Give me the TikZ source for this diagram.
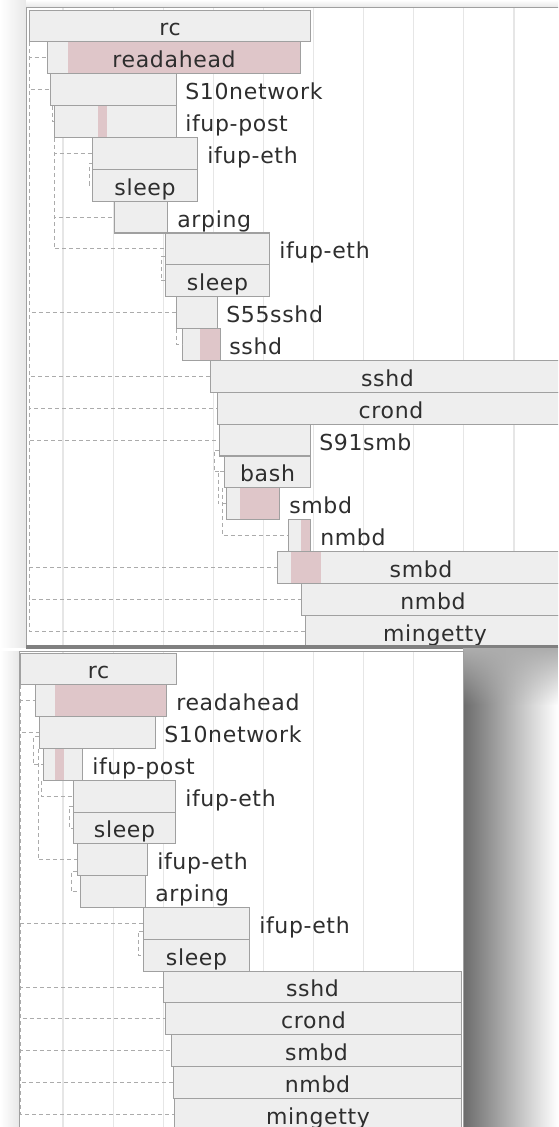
\documentclass[tikz,border=0pt]{standalone}
\usepackage{fontspec}
\setmainfont[LetterSpace=3]{DejaVu Sans}
\usetikzlibrary{positioning,fadings}
\definecolor{barfill}{HTML}{EEEEEE}
\definecolor{barline}{HTML}{A0A0A0}
\definecolor{hilite}{HTML}{DFC6C9}
\definecolor{gridc}{HTML}{E6E6E6}
\definecolor{linkc}{HTML}{ABABAB}
\definecolor{txt}{HTML}{2E2E2E}
\definecolor{framec}{HTML}{A0A0A0}
\tikzfading[name=fadedown, top color=transparent!0, bottom color=transparent!100]

\begin{document}
\begin{tikzpicture}[x=1pt,y=-1pt,
    every node/.style={font=\fontsize{22}{22}\selectfont},
    bar/.style={draw=barline, fill=barfill, line width=1.1pt, inner sep=0pt, anchor=north west,
        minimum height=31.85pt, text height=20pt, text depth=0pt, text=txt},
    lbl/.style={inner sep=0pt, text height=20pt, text depth=0pt, text=txt},
    hl/.style 2 args={path picture={\fill[hilite] ([xshift=#1]path picture bounding box.north west)
        rectangle ([xshift=#2]path picture bounding box.south west);}},
    link/.style={draw=linkc, line width=0.9pt, dash pattern=on 4pt off 3pt},
    gridline/.style={draw=gridc, line width=1.2pt}]
            \useasboundingbox (0,0) rectangle (558,1127);
            \clip (0,0) rectangle (558,1127);
            \fill[white] (0,0) rectangle (558,1127);
            \shade[left color=white, right color=black!9] (0,0) rectangle (26,647);
            \shade[top color=white, bottom color=black!9] (26,0) rectangle (558,7);
            \fill[white] (26,7) rectangle (570,647);
            \draw[framec, line width=1pt] (26,647) -- (26,7) -- (570,7);
            \foreach \k in {0,...,9} \draw[gridline] (63+50.1*\k,8) -- (63+50.1*\k,645);

            \node[bar, minimum width=281pt] (trc) at (29,9.5) {rc};
            \node[bar, minimum width=253pt, hl={20pt}{253pt}] (tread) at (47,41.35) {readahead};
            \node[bar, minimum width=126pt] (tnet) at (50,73.2) {};
            \node[bar, minimum width=122pt, hl={43pt}{52pt}] (tpost) at (54,105.05) {};
            \node[bar, minimum width=105pt] (teth) at (92,136.9) {};
            \node[bar, minimum width=105pt] (tsleep) at (92,168.75) {sleep};
            \node[bar, minimum width=53pt] (tarp) at (114,200.6) {};
            \node[bar, minimum width=104pt] (teth2) at (165,232.45) {};
            \node[bar, minimum width=104pt] (tsleep2) at (165,264.3) {sleep};
            \node[bar, minimum width=41pt] (ts55) at (176,296.15) {};
            \node[bar, minimum width=38pt, hl={17pt}{38pt}] (tsshd) at (182,328.0) {};
            \node[bar, minimum width=354pt] (tsshd2) at (210,359.85) {sshd};
            \node[bar, minimum width=347pt] (tcrond) at (217,391.7) {crond};
            \node[bar, minimum width=91pt] (ts91) at (219,423.55) {};
            \node[bar, minimum width=86pt] (tbash) at (224,455.4) {bash};
            \node[bar, minimum width=53pt, hl={13pt}{53pt}] (tsmbd) at (226,487.25) {};
            \node[bar, minimum width=22pt, hl={12pt}{22pt}] (tnmbd) at (288,519.1) {};
            \node[bar, minimum width=287pt, hl={13pt}{43pt}] (tsmbd2) at (277,550.95) {smbd};
            \node[bar, minimum width=263pt] (tnmbd2) at (301,582.8) {nmbd};
            \node[bar, minimum width=259pt] (tmget) at (305,614.65) {mingetty};

            \node[lbl, right=8pt of tnet] (ltnet) {S10network};
            \node[lbl, right=8pt of tpost] (ltpost) {ifup-post};
            \node[lbl, right=9pt of teth] (lteth) {ifup-eth};
            \node[lbl, right=9pt of tarp] (ltarp) {arping};
            \node[lbl, right=9pt of teth2] (lteth2) {ifup-eth};
            \node[lbl, right=8pt of ts55] (lts55) {S55sshd};
            \node[lbl, right=8pt of tsshd] (ltsshd) {sshd};
            \node[lbl, right=8pt of ts91] (lts91) {S91smb};
            \node[lbl, right=9pt of tsmbd] (ltsmbd) {smbd};
            \node[lbl, right=9pt of tnmbd] (ltnmbd) {nmbd};

            \foreach \c in {tread,tnet,ts55,tsshd2,tcrond,ts91,tsmbd2,tnmbd2,tmget}
                \draw[link] (trc.south west) |- (\c.west);
            \draw[link] ([xshift=2pt]tnet.south west) |- (tpost.west);
            \foreach \c in {teth,tarp,teth2}
                \draw[link] (tpost.south west) |- (\c.west);
            \draw[link] ([yshift=-10pt]teth.west) -- ++(-3pt,0) |- (tsleep.west);
            \draw[link] ([yshift=-8pt]teth2.west) -- ++(-4pt,0) |- (tsleep2.west);
            \draw[link] (ts55.south west) |- (tsshd.west);
            \draw[link] ([yshift=-10pt]ts91.west) -- ++(-5pt,0) |- (tbash.west);
            \draw[link] (tbash.west) -- ++(-6pt,0) |- (tsmbd.west);
            \draw[link] ([xshift=-2pt]tbash.south west) |- (tnmbd.west);

            \fill[black!50] (26,645) rectangle (558,648.5);
            \fill[white] (0,648.5) rectangle (558,1127);
            \shade[left color=white, right color=black!9] (0,651) rectangle (19,1127);
            \shade[left color=black!58, middle color=black!12, right color=white] (463,648.5) rectangle (558,1127);
            \fill[black!32, path fading=fadedown] (463,648.5) rectangle (558,705);
            \draw[framec, line width=1pt] (19,1130) -- (19,651) -- (463,651) -- (463,1130);
            \foreach \k in {0,...,7} \draw[gridline] (63+50.1*\k,652) -- (63+50.1*\k,1127);

            \node[bar, minimum width=156pt] (brc) at (20,652.5) {rc};
            \node[bar, minimum width=131pt, hl={19pt}{131pt}] (bread) at (35,684.3) {};
            \node[bar, minimum width=116pt] (bnet) at (39,716.1) {};
            \node[bar, minimum width=39pt, hl={11pt}{20pt}] (bpost) at (43,747.9) {};
            \node[bar, minimum width=102pt] (beth) at (73,779.7) {};
            \node[bar, minimum width=102pt] (bsleep) at (73,811.5) {sleep};
            \node[bar, minimum width=70pt] (beth2) at (77,843.3) {};
            \node[bar, minimum width=65pt] (barp) at (80,875.1) {};
            \node[bar, minimum width=106pt] (beth3) at (143,906.9) {};
            \node[bar, minimum width=106pt] (bsleep2) at (143,938.7) {sleep};
            \node[bar, minimum width=298pt] (bsshd) at (163,970.5) {sshd};
            \node[bar, minimum width=296pt] (bcrond) at (165,1002.3) {crond};
            \node[bar, minimum width=290pt] (bsmbd) at (171,1034.1) {smbd};
            \node[bar, minimum width=288pt] (bnmbd) at (173,1065.9) {nmbd};
            \node[bar, minimum width=287pt] (bmget) at (174,1097.7) {mingetty};

            \node[lbl, right=9pt of bread] (lbread) {readahead};
            \node[lbl, right=8pt of bnet] (lbnet) {S10network};
            \node[lbl, right=9pt of bpost] (lbpost) {ifup-post};
            \node[lbl, right=9pt of beth] (lbeth) {ifup-eth};
            \node[lbl, right=9pt of beth2] (lbeth2) {ifup-eth};
            \node[lbl, right=9pt of barp] (lbarp) {arping};
            \node[lbl, right=9pt of beth3] (lbeth3) {ifup-eth};

            \foreach \c in {bread,bnet,beth3,bsshd,bcrond,bsmbd,bnmbd,bmget}
                \draw[link] (brc.south west) |- (\c.west);
            \draw[link] ([yshift=-4pt]bnet.west) -- ++(-6pt,0) |- (bpost.west);
            \draw[link] ([xshift=-1pt]bnet.south west) |- (beth2.west);
            \draw[link] ([xshift=-2pt]bpost.south west) |- (beth.west);
            \draw[link] ([yshift=-10pt]beth.west) -- ++(-4pt,0) |- (bsleep.west);
            \draw[link] ([yshift=-12pt]beth2.west) -- ++(-6pt,0) |- (barp.west);
            \draw[link] ([yshift=-8pt]beth3.west) -- ++(-5pt,0) |- (bsleep2.west);
        \end{tikzpicture}
\end{document}
